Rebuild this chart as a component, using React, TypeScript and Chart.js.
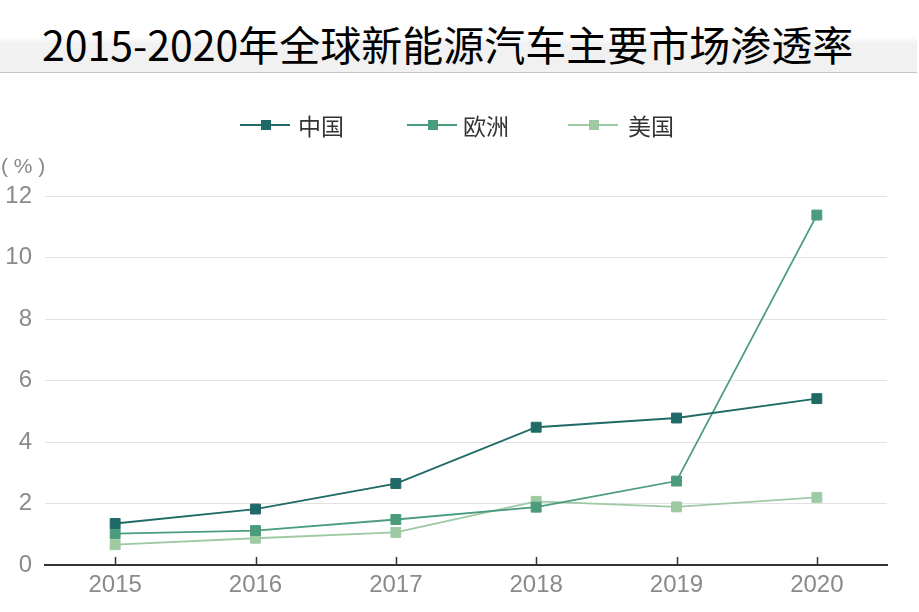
import React, { useEffect, useRef } from "react";
import { Chart, registerables } from "chart.js";

Chart.register(...registerables);

const TITLE = "2015-2020年全球新能源汽车主要市场渗透率";
const years = ["2015", "2016", "2017", "2018", "2019", "2020"];
const seriesNames = ["中国", "欧洲", "美国"];
const china = [1.35, 1.82, 2.65, 4.48, 4.78, 5.41];
const europe = [1.02, 1.12, 1.48, 1.88, 2.73, 11.38];
const usa = [0.66, 0.87, 1.06, 2.07, 1.89, 2.2];
const yMin = 0;
const yMax = 12;
const yStep = 2;
const unitLabel = "( % )";

const colors = ["#1f6a66", "#4a9c7c", "#9dcaa2"];
const legendPos = [
  [240, 298],
  [407, 463],
  [568, 628],
];

const extras = {
  id: "extras",
  beforeDatasetsDraw(chart: any) {
    const ctx = chart.ctx;
    const xs = chart.scales.x;
    const bottom = chart.chartArea.bottom;
    ctx.save();
    ctx.strokeStyle = "#333";
    ctx.lineWidth = 1.5;
    years.forEach((_, i) => {
      const px = Math.round(xs.getPixelForValue(i)) + 0.5;
      ctx.beginPath();
      ctx.moveTo(px, bottom);
      ctx.lineTo(px, bottom - 8);
      ctx.stroke();
    });
    ctx.restore();
  },
  afterDraw(chart: any) {
    const ctx = chart.ctx;
    ctx.save();
    ctx.font = "21px 'Liberation Sans', Arial, sans-serif";
    ctx.fillStyle = "#888";
    ctx.textBaseline = "middle";
    ctx.textAlign = "left";
    ctx.fillText(unitLabel, 1, 167);

    const ly = 125;
    seriesNames.forEach((name, i) => {
      const [lx, tx] = legendPos[i];
      ctx.strokeStyle = colors[i];
      ctx.lineWidth = 1.8;
      ctx.beginPath();
      ctx.moveTo(lx, ly);
      ctx.lineTo(lx + 50, ly);
      ctx.stroke();
      ctx.fillStyle = colors[i];
      ctx.fillRect(lx + 21, ly - 5, 10, 10);
      ctx.fillStyle = "#333";
      ctx.font = "23px 'Noto Sans CJK SC', sans-serif";
      ctx.textBaseline = "middle";
      ctx.fillText(name, tx, ly + 1);
    });
    ctx.restore();
  },
};

export default function App() {
  const ref = useRef<HTMLCanvasElement | null>(null);

  useEffect(() => {
    if (!ref.current) return;
    const mk = (label: string, data: number[], c: string) => ({
      label,
      data,
      borderColor: c,
      backgroundColor: c,
      borderWidth: 1.8,
      pointStyle: "rect",
      pointRadius: 7,
      pointBorderWidth: 1,
      pointBorderColor: c,
      pointBackgroundColor: c,
      tension: 0,
    });
    const chart = new Chart(ref.current, {
      type: "line",
      data: {
        labels: years,
        datasets: [
          mk(seriesNames[0], china, colors[0]),
          mk(seriesNames[1], europe, colors[1]),
          mk(seriesNames[2], usa, colors[2]),
        ],
      },
      options: {
        animation: false,
        responsive: true,
        maintainAspectRatio: false,
        layout: { padding: { left: 0, right: 32, top: 196, bottom: 0 } },
        plugins: {
          legend: { display: false },
          tooltip: { enabled: false },
          title: { display: false },
        },
        scales: {
          x: {
            offset: true,
            grid: { display: false, drawTicks: false },
            border: { display: true, color: "#333", width: 2 },
            ticks: {
              padding: 6,
              color: "#8a8a8a",
              font: { family: "'Liberation Sans', Arial, sans-serif", size: 24 },
              maxRotation: 0,
            },
            afterFit: (s: any) => {
              s.height = 47;
            },
          },
          y: {
            min: yMin,
            max: yMax,
            grid: { color: "#e2e2e2", lineWidth: 1, drawTicks: false },
            border: { display: false },
            ticks: {
              stepSize: yStep,
              padding: 13,
              color: "#8a8a8a",
              font: { family: "'Liberation Sans', Arial, sans-serif", size: 24 },
            },
            afterFit: (s: any) => {
              s.width = 45;
            },
          },
        },
      },
      plugins: [extras],
    });
    return () => chart.destroy();
  }, []);

  return (
    <div style={{ position: "fixed", left: 0, top: 0, width: 919, height: 612, background: "#fff" }}>
      <canvas ref={ref} style={{ position: "absolute", left: 0, top: 0 }} />
      <div
        style={{
          position: "absolute",
          left: 0,
          top: 0,
          width: 917,
          height: 72,
          background: "linear-gradient(to bottom, #ffffff 0px, #ffffff 36px, #f1f1f1 44px, #f1f1f1 72px)",
          borderBottom: "1px solid #c4c4c4",
        }}
      >
        <div
          style={{
            position: "absolute",
            left: 42,
            top: 23,
            fontFamily: "'Noto Sans CJK SC', sans-serif",
            fontWeight: 400,
            fontSize: 41,
            lineHeight: "40px",
            color: "#000",
            whiteSpace: "nowrap",
          }}
        >
          {TITLE}
        </div>
      </div>
    </div>
  );
}
